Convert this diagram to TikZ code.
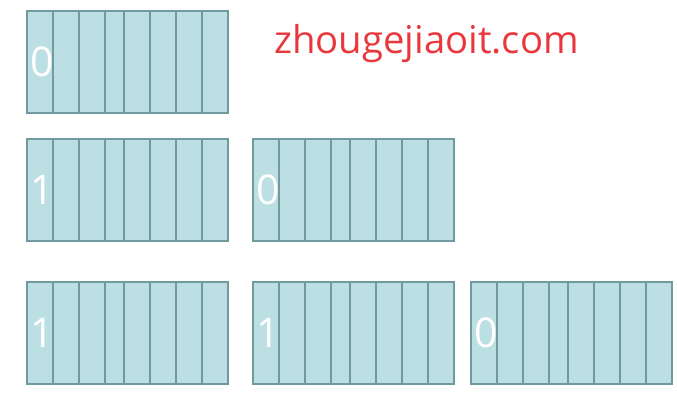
\documentclass[tikz,border=0pt]{standalone}
\usepackage{fontspec}
\setmainfont{Open Sans}
\definecolor{cellfill}{HTML}{BCDFE3}
\definecolor{cellline}{HTML}{709A9E}
\definecolor{sitered}{HTML}{E8383D}
% one byte: 8 cells, the flag bit written in the first
\newcommand{\byteblock}[4]{%
	\draw[cell] (#2,#3) rectangle ++(201,102);
	\foreach \dx in {26,52,78,97,123,149,175}
		\draw[cellline, line width=1.2pt] (#2+\dx,#3) -- ++(0,102);
	\node[digit] (#1) at (#2+3,#3+51) {#4};
}

\begin{document}
\begin{tikzpicture}[x=1pt, y=-1pt,
	cell/.style={fill=cellfill, draw=cellline, line width=1.2pt},
	digit/.style={white, anchor=west, inner sep=0pt, font=\fontsize{41}{41}\selectfont}]
	\useasboundingbox (0,0) rectangle (677,405);
	% one byte
	\byteblock{a1}{27}{11}{0}
	\node[sitered, anchor=base west, inner sep=0pt, font=\fontsize{38.3}{38.3}\selectfont] (site) at (274,53) {zhougejiaoit.com};
	% two bytes
	\byteblock{b1}{27}{139}{1}
	\byteblock{b2}{253}{139}{0}
	% three bytes
	\byteblock{c1}{27}{282}{1}
	\byteblock{c2}{253}{282}{1}
	\byteblock{c3}{471}{282}{0}
\end{tikzpicture}
\end{document}
